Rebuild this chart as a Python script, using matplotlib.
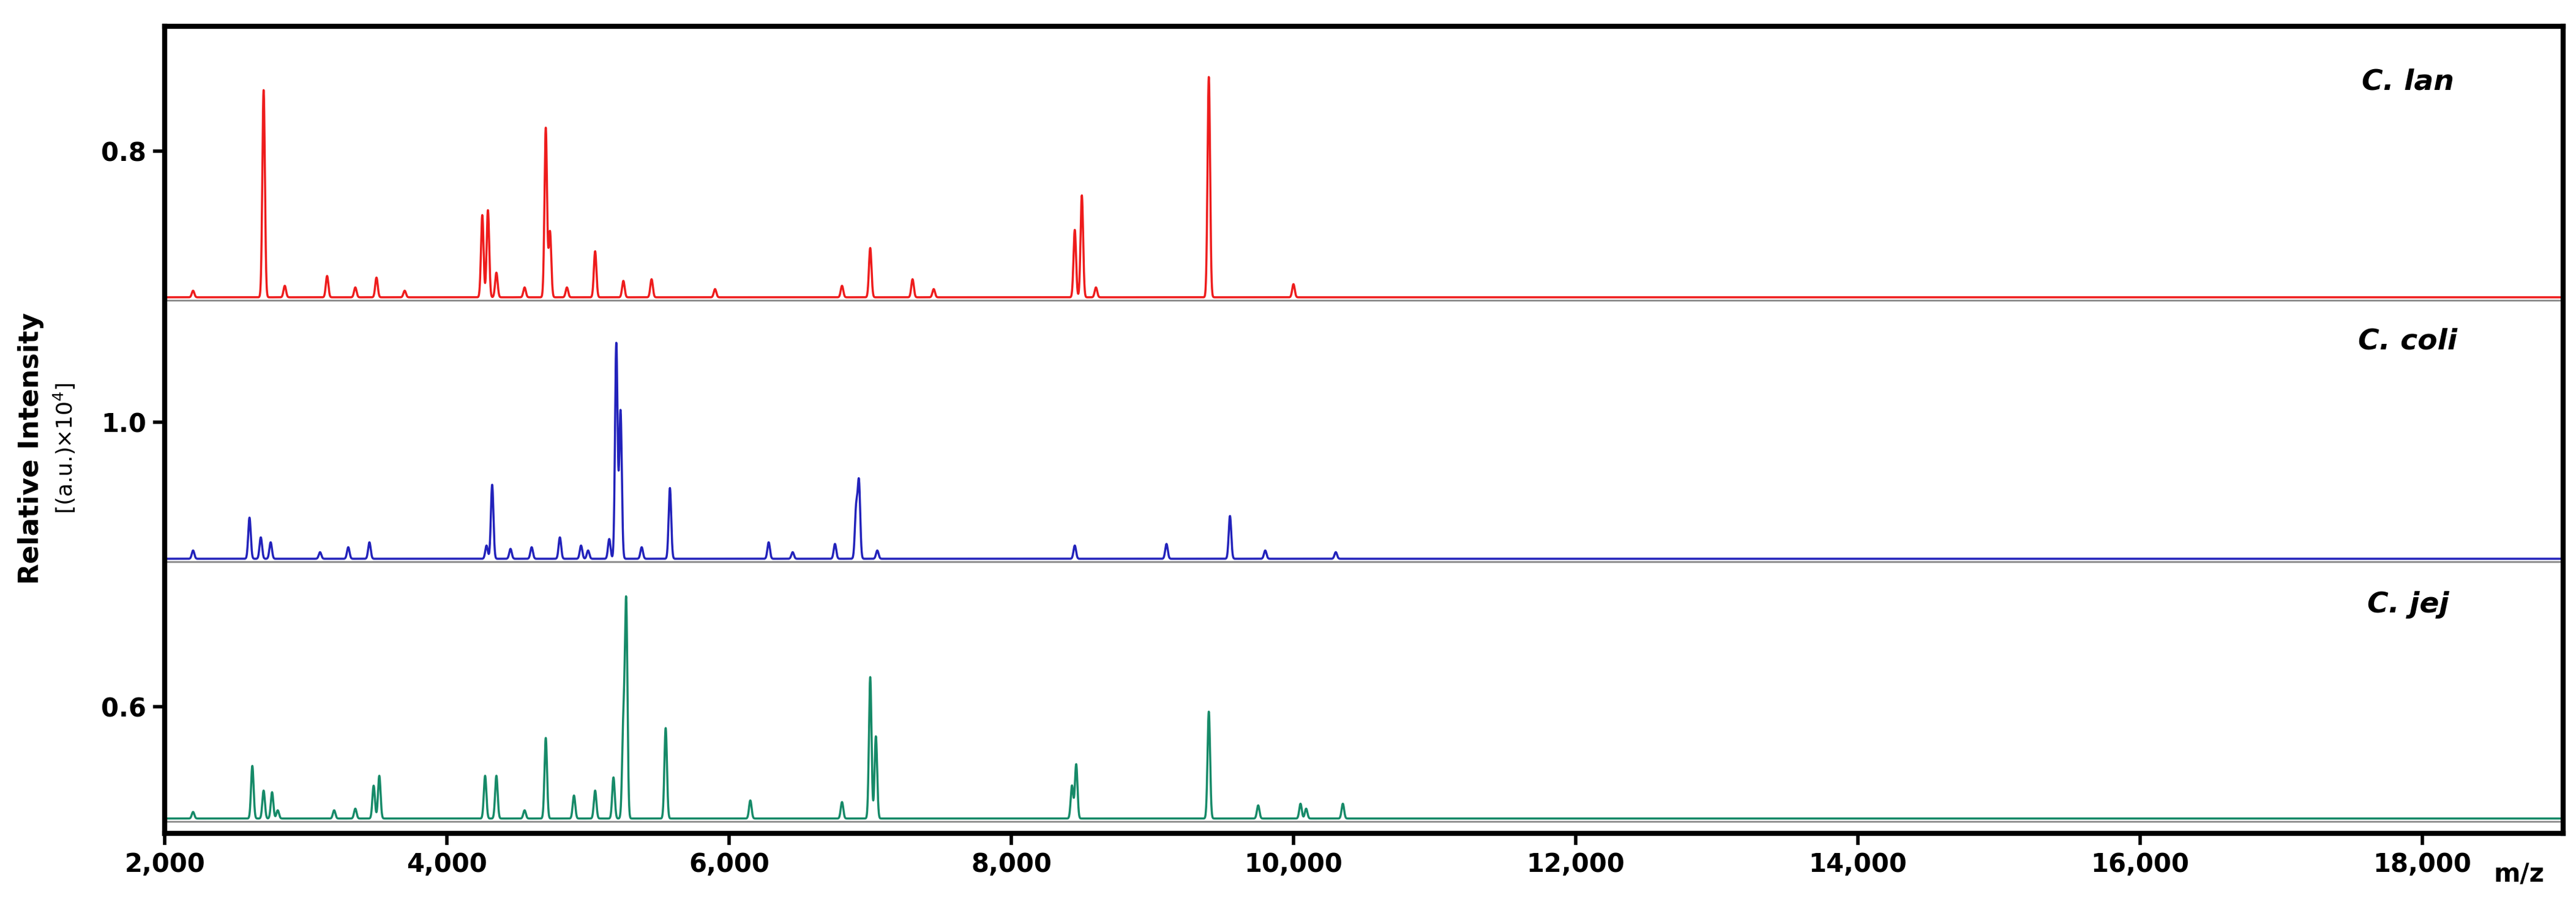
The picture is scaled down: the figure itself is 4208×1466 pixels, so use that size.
import matplotlib.pyplot as plt
import numpy as np

# peak lists: (m/z, height in plot units above baseline)
lan_mz = [2200, 2700, 2850, 3150, 3350, 3500, 3700, 4250, 4290, 4350, 4550, 4700, 4730, 4850, 5050,
          5250, 5450, 5900, 6800, 7000, 7300, 7450, 8450, 8500, 8600, 9400, 10000]
lan_h = [4, 126, 7, 13, 6, 12, 4, 50, 53, 15, 6, 103, 40, 6, 28, 10, 11, 5, 7, 30, 11, 5, 41, 62, 6, 134, 8]
coli_mz = [2200, 2600, 2680, 2750, 3100, 3300, 3450, 4280, 4320, 4450, 4600, 4800, 4950, 5000, 5150,
           5200, 5230, 5380, 5580, 6280, 6450, 6750, 6900, 6920, 7050, 8450, 9100, 9550, 9800, 10300]
coli_h = [5, 25, 13, 10, 4, 7, 10, 8, 45, 6, 7, 13, 8, 5, 12, 131, 90, 7, 43, 10, 4, 9, 30, 46, 5, 8, 9, 26, 5, 4]
jej_mz = [2200, 2620, 2700, 2760, 2800, 3200, 3350, 3480, 3520, 4270, 4350, 4550, 4700, 4900, 5050,
          5180, 5250, 5270, 5550, 6150, 6800, 7000, 7040, 8430, 8460, 9400, 9750, 10050, 10090, 10350]
jej_h = [4, 32, 17, 16, 5, 5, 6, 20, 26, 26, 26, 5, 49, 14, 17, 25, 55, 130, 55, 11, 10, 86, 50, 20, 33, 65, 8, 9, 6, 9]

species = ["C. lan", "C. coli", "C. jej"]
colors = ["#ee1c1c", "#2222bb", "#168a68"]
baselines = [326, 167, 9]
ytick_pos = [415, 250, 77]
ytick_labels = ["0.8", "1.0", "0.6"]
xticks = [2000, 4000, 6000, 8000, 10000, 12000, 14000, 16000, 18000]

x = np.linspace(2000, 19000, 40000)


def spectrum(mz, h):
    y = np.zeros_like(x)
    for m, a in zip(mz, h):
        y += a * np.exp(-0.5 * ((x - m) / 9.0) ** 2)
    return y


fig = plt.figure(figsize=(42.08, 14.66), dpi=100)
ax = fig.add_axes([0.064, 0.071, 0.931, 0.9])
plt.rcParams['font.family'] = 'DejaVu Sans'

for (mz, h), c, b, name, ly in zip([(lan_mz, lan_h), (coli_mz, coli_h), (jej_mz, jej_h)],
                                  colors, baselines, species, [457, 299, 139]):
    ax.plot(x, b - 2 + 0 * x, color="#888888", lw=2)
    ax.plot(x, b + spectrum(mz, h), color=c, lw=2.5)
    ax.text(17900, ly, name, fontsize=34, fontweight="bold", fontstyle="italic", ha="center", va="center")

ax.set_xlim(2000, 19000)
ax.set_ylim(0, 491)
ax.set_xticks(xticks)
ax.set_xticklabels([f"{t:,}" for t in xticks])
ax.set_yticks(ytick_pos)
ax.set_yticklabels(ytick_labels)
ax.tick_params(labelsize=30, width=4, length=14, pad=8)
for lab in ax.get_xticklabels() + ax.get_yticklabels():
    lab.set_fontweight("bold")
for s in ax.spines.values():
    s.set_linewidth(6)

fig.text(0.012, 0.5, "Relative Intensity", rotation=90, fontsize=32, fontweight="bold", va="center", ha="center")
fig.text(0.025, 0.5, "[(a.u.)×10$^4$]", rotation=90, fontsize=26, va="center", ha="center")
fig.text(0.978, 0.025, "m/z", fontsize=30, fontweight="bold", ha="center", va="center")

fig.savefig("out.png")
